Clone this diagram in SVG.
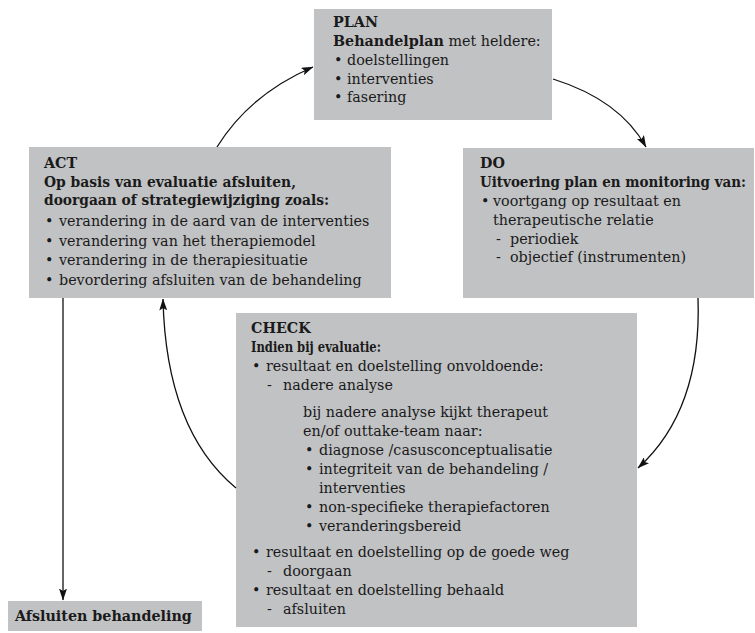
<svg xmlns="http://www.w3.org/2000/svg" width="755" height="633" viewBox="0 0 755 633">
  <defs>
    <marker id="arrow" viewBox="0 0 12 8" refX="11.5" refY="4" markerWidth="12" markerHeight="8" markerUnits="userSpaceOnUse" orient="auto">
      <path d="M0,0 L12,4 L0,8 L2.5,4 Z" fill="#111"/>
    </marker>
    <style>
      .box { fill: #c1c2c4; }
      text { font-family: "DejaVu Serif", "Liberation Serif", serif; font-size: 14.3px; fill: #1a1a1a; }
      .b { font-weight: bold; }
      .edge { fill: none; stroke: #111; stroke-width: 1.3; marker-end: url(#arrow); }
    </style>
  </defs>
  <rect width="755" height="633" fill="#ffffff"/>

  <g id="plan">
    <rect class="box" x="314" y="9" width="238" height="111"/>
    <text x="333" y="27" class="b">PLAN</text>
    <text x="333" y="46"><tspan class="b">Behandelplan</tspan> met heldere:</text>
    <text x="334" y="65">•</text><text x="347" y="65">doelstellingen</text>
    <text x="334" y="83.5">•</text><text x="347" y="83.5">interventies</text>
    <text x="334" y="102">•</text><text x="347" y="102">fasering</text>
  </g>

  <g id="act">
    <rect class="box" x="29" y="147" width="362" height="151"/>
    <text x="44" y="168" class="b">ACT</text>
    <text x="44" y="187" class="b" textLength="252" lengthAdjust="spacingAndGlyphs">Op basis van evaluatie afsluiten,</text>
    <text x="44" y="205" class="b" textLength="285" lengthAdjust="spacingAndGlyphs">doorgaan of strategiewijziging zoals:</text>
    <text x="45" y="226">•</text><text x="59" y="226">verandering in de aard van de interventies</text>
    <text x="45" y="245.5">•</text><text x="59" y="245.5">verandering van het therapiemodel</text>
    <text x="45" y="265">•</text><text x="59" y="265">verandering in de therapiesituatie</text>
    <text x="45" y="285">•</text><text x="59" y="285">bevordering afsluiten van de behandeling</text>
  </g>

  <g id="do">
    <rect class="box" x="463" y="148" width="291" height="150"/>
    <text x="480" y="168" class="b">DO</text>
    <text x="480" y="187" class="b" textLength="266" lengthAdjust="spacingAndGlyphs">Uitvoering plan en monitoring van:</text>
    <text x="481" y="206">•</text><text x="493" y="206">voortgang op resultaat en</text>
    <text x="493" y="225">therapeutische relatie</text>
    <text x="496" y="243.5">-</text><text x="510" y="243.5">periodiek</text>
    <text x="496" y="262">-</text><text x="510" y="262">objectief (instrumenten)</text>
  </g>

  <g id="check">
    <rect class="box" x="236" y="313" width="401" height="314"/>
    <text x="251" y="333" class="b">CHECK</text>
    <text x="251" y="352" class="b" textLength="130" lengthAdjust="spacingAndGlyphs">Indien bij evaluatie:</text>
    <text x="252" y="371">•</text><text x="266" y="371">resultaat en doelstelling onvoldoende:</text>
    <text x="267" y="390">-</text><text x="283" y="390">nadere analyse</text>
    <text x="303" y="417">bij nadere analyse kijkt therapeut</text>
    <text x="303" y="436">en/of outtake-team naar:</text>
    <text x="305" y="455">•</text><text x="319" y="455">diagnose /casusconceptualisatie</text>
    <text x="305" y="474">•</text><text x="319" y="474">integriteit van de behandeling /</text>
    <text x="319" y="493">interventies</text>
    <text x="305" y="512">•</text><text x="319" y="512">non-specifieke therapiefactoren</text>
    <text x="305" y="531">•</text><text x="319" y="531">veranderingsbereid</text>
    <text x="252" y="557">•</text><text x="266" y="557">resultaat en doelstelling op de goede weg</text>
    <text x="267" y="576">-</text><text x="283" y="576">doorgaan</text>
    <text x="252" y="595">•</text><text x="266" y="595">resultaat en doelstelling behaald</text>
    <text x="267" y="614">-</text><text x="283" y="614">afsluiten</text>
  </g>

  <g id="afsluiten">
    <rect class="box" x="8" y="601" width="194" height="30"/>
    <text x="15" y="621" class="b">Afsluiten behandeling</text>
  </g>

  <g id="connectors">
    <path class="edge" d="M217,147 Q250,94 313,67"/>
    <path class="edge" d="M553,79 Q620,100 646,147"/>
    <path class="edge" d="M698,298 Q702,410 638,468"/>
    <path class="edge" d="M236,488 Q166,430 163,299"/>
    <path class="edge" d="M63,298 L63,600"/>
  </g>
</svg>
